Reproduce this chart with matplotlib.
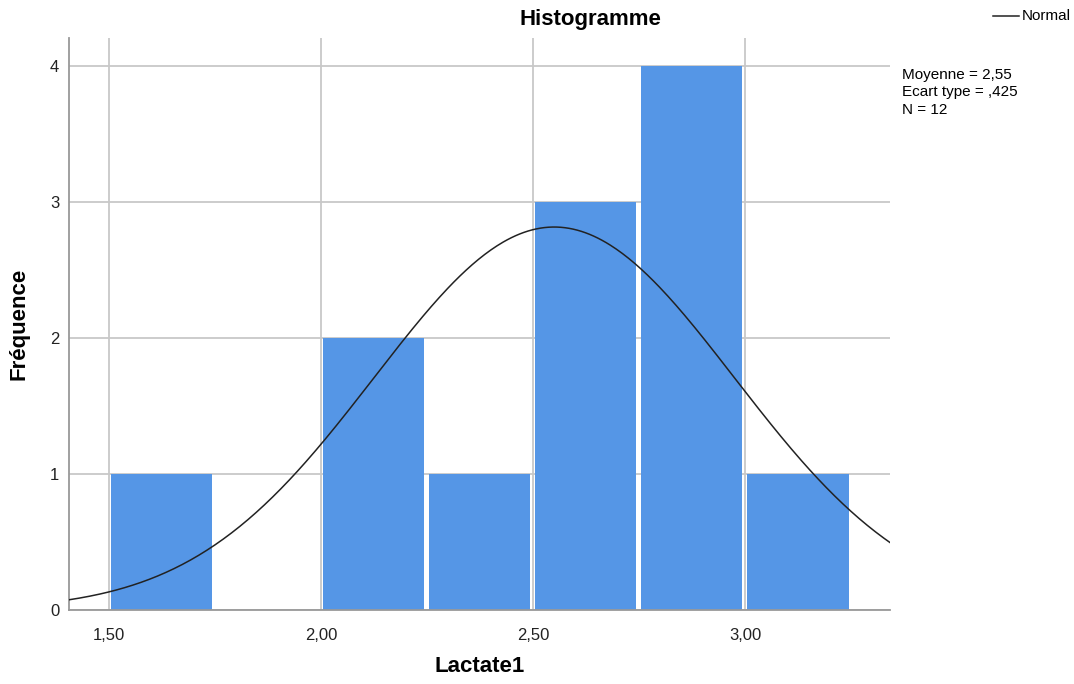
import numpy as np
import matplotlib
matplotlib.use("Agg")
import matplotlib.pyplot as plt

plt.rcParams['font.family'] = ['Liberation Sans', 'DejaVu Sans']

bin_edges = [1.50, 1.75, 2.00, 2.25, 2.50, 2.75, 3.00, 3.25]
counts = [1, 0, 2, 1, 3, 4, 1]
mean = 2.55
std = 0.425
n = 12
x_ticks = [1.50, 2.00, 2.50, 3.00]
x_tick_labels = ["1,50", "2,00", "2,50", "3,00"]
y_ticks = [0, 1, 2, 3, 4]

fig = plt.figure(figsize=(10.74, 6.84), dpi=100)
ax = fig.add_axes([69/1074, 74/684, (890-69)/1074, (610-38)/684])

centers = [(a + b) / 2 for a, b in zip(bin_edges[:-1], bin_edges[1:])]
ax.hist(centers, bins=bin_edges, weights=counts, rwidth=0.953,
        color='#5596e6', zorder=2)

xmin, xmax = 1.4057, 3.342
xs = np.linspace(xmin, xmax, 400)
bw = bin_edges[1] - bin_edges[0]
ys = n * bw / (std * np.sqrt(2 * np.pi)) * np.exp(-0.5 * ((xs - mean) / std) ** 2)
ax.plot(xs, ys, color='#222222', lw=1.1, zorder=3)

ax.set_xlim(xmin, xmax)
ax.set_ylim(0, 4.206)
ax.set_xticks(x_ticks)
ax.set_xticklabels(x_tick_labels)
ax.set_yticks(y_ticks)
ax.grid(True, color='#c8c8c8', lw=1.3, zorder=0)
ax.set_axisbelow(True)
ax.tick_params(length=0, labelsize=12, colors='#222222')
ax.tick_params(axis='x', pad=13)
ax.tick_params(axis='y', pad=7)
for s in ['top', 'right']:
    ax.spines[s].set_visible(False)
for s in ['left', 'bottom']:
    ax.spines[s].set_color('#999999')
    ax.spines[s].set_linewidth(1.3)

ax.set_xlabel('Lactate1', fontsize=16, fontweight='bold', labelpad=9)
ax.set_ylabel('Fréquence', fontsize=16, fontweight='bold', labelpad=15)

fig.text(590/1074, 1 - 19/684, 'Histogramme', fontsize=16, fontweight='bold',
         ha='center', va='center')

# legend
fig.add_artist(plt.Line2D([993/1074, 1019/1074], [1 - 16/684, 1 - 16/684],
                          color='#222222', lw=1.1))
fig.text(1022/1074, 1 - 16/684, 'Normal', fontsize=11, va='center', ha='left')

stats = f"Moyenne = {mean:.2f}".replace('.', ',') + "\nEcart type = ,425" + f"\nN = {n}"
fig.text(902/1074, 1 - 68/684, stats,
         fontsize=11, va='top', ha='left', linespacing=1.3)

fig.savefig('out.png', dpi=100)
